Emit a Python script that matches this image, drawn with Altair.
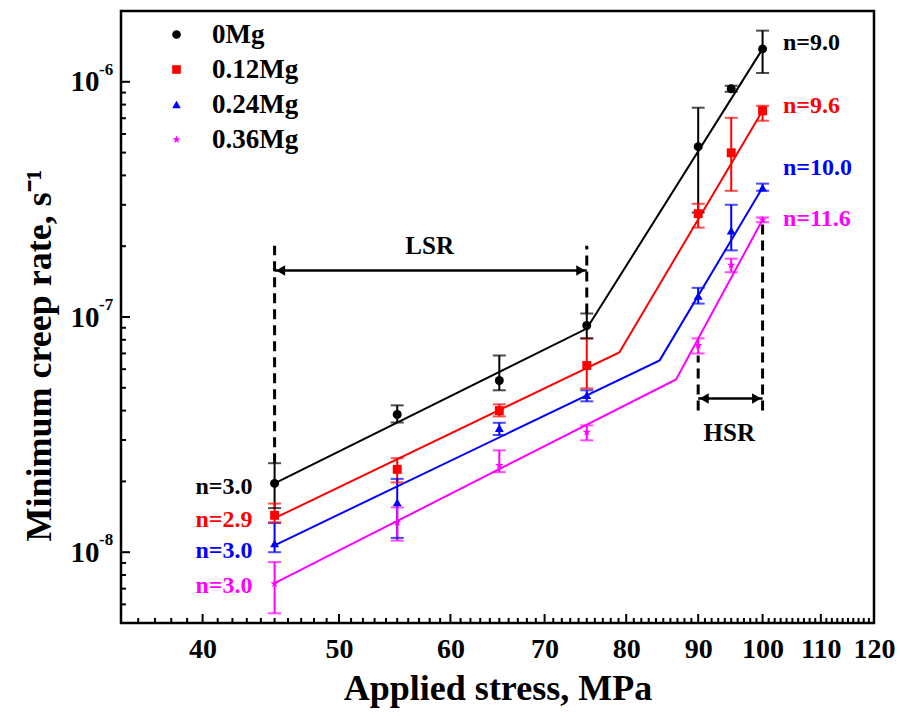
import altair as alt
import pandas as pd

FONT = "Liberation Serif"

series = ["0Mg", "0.12Mg", "0.24Mg", "0.36Mg"]
colors = ["#000000", "#ff0000", "#0000ff", "#ff00ff"]
star = "M0,-1L0.2245,-0.309L0.951,-0.309L0.363,0.118L0.588,0.809L0,0.382L-0.588,0.809L-0.363,0.118L-0.951,-0.309L-0.2245,-0.309Z"
shapes = ["circle", "square", "triangle-up", star]

stress = [45, 55, 65, 75, 90, 95, 100]

rate_0 = [1.96e-8, 3.85e-8, 5.37e-8, 9.2e-8, 5.3e-7, 9.34e-7, 1.38e-6]
hi_0 = [2.39e-8, 4.21e-8, 6.86e-8, 1.035e-7, 7.76e-7, 9.62e-7, 1.65e-6]
lo_0 = [1.54e-8, 3.56e-8, 4.88e-8, 8.11e-8, 2.78e-7, 9.07e-7, 1.09e-6]

rate_12 = [1.435e-8, 2.25e-8, 4.0e-8, 6.22e-8, 2.75e-7, 4.99e-7, 7.53e-7]
hi_12 = [1.61e-8, 2.51e-8, 4.25e-8, 8.11e-8, 3.03e-7, 7.03e-7, 7.91e-7]
lo_12 = [1.34e-8, 1.98e-8, 3.78e-8, 4.97e-8, 2.40e-7, 3.44e-7, 6.83e-7]

rate_24 = [1.09e-8, 1.63e-8, 3.37e-8, 4.65e-8, 1.23e-7, 2.33e-7, 3.55e-7]
hi_24 = [1.33e-8, 2.05e-8, 3.55e-8, 4.88e-8, 1.33e-7, 3.0e-7, 3.69e-7]
lo_24 = [1.0e-8, 1.15e-8, 3.15e-8, 4.38e-8, 1.14e-7, 1.92e-7, 3.44e-7]

rate_36 = [7.35e-9, 1.34e-8, 2.34e-8, 3.24e-8, 7.57e-8, 1.66e-7, 2.59e-7]
hi_36 = [9.08e-9, 1.55e-8, 2.71e-8, 3.46e-8, 8.11e-8, 1.77e-7, 2.65e-7]
lo_36 = [5.5e-9, 1.12e-8, 2.19e-8, 2.99e-8, 7.0e-8, 1.55e-7, 2.53e-7]

fit_x_0 = [45, 75, 100]
fit_y_0 = [1.96e-8, 8.93e-8, 1.38e-6]
fit_x_12 = [45, 79.1, 100]
fit_y_12 = [1.395e-8, 7.07e-8, 7.53e-7]
fit_x_24 = [45, 84.5, 100]
fit_y_24 = [1.07e-8, 6.54e-8, 3.55e-7]
fit_x_36 = [45, 86.8, 100]
fit_y_36 = [7.38e-9, 5.43e-8, 2.59e-7]

n_right = ["n=9.0", "n=9.6", "n=10.0", "n=11.6"]
n_right_y = [1.466e-6, 7.91e-7, 4.28e-7, 2.62e-7]
n_left = ["n=3.0", "n=2.9", "n=3.0", "n=3.0"]
n_left_y = [1.9e-8, 1.37e-8, 1.01e-8, 7.18e-9]

x_major = [40, 50, 60, 70, 80, 90, 100, 110, 120]
x_minor = [v for v in range(36, 120) if v not in x_major]
y_major = [1e-8, 1e-7, 1e-6]
y_exp = ["-8", "-7", "-6"]
y_minor = [k * 10.0 ** e for e in (-9, -8, -7) for k in range(2, 10) if 5e-9 <= k * 10.0 ** e < 2e-6]

# ---------- tables ----------
col_of = dict(zip(series, colors))
rates = [rate_0, rate_12, rate_24, rate_36]
his = [hi_0, hi_12, hi_24, hi_36]
los = [lo_0, lo_12, lo_24, lo_36]
rows = []
for s, r, h, l in zip(series, rates, his, los):
    for x, rv, hv, lv in zip(stress, r, h, l):
        rows.append({"series": s, "col": col_of[s], "x": x, "y": rv, "hi": hv, "lo": lv})
pts = pd.DataFrame(rows)

fits = []
for s, fx, fy in zip(series, [fit_x_0, fit_x_12, fit_x_24, fit_x_36], [fit_y_0, fit_y_12, fit_y_24, fit_y_36]):
    for i, (a, b) in enumerate(zip(fx, fy)):
        fits.append({"series": s, "col": col_of[s], "x": a, "y": b, "o": i})
fitdf = pd.DataFrame(fits)

W, H = 753, 612
xs = alt.Scale(type="log", domain=[35, 120], nice=False)
ys = alt.Scale(type="log", domain=[5e-9, 2e-6], nice=False)

x_axis = alt.Axis(values=x_major, format="d", ticks=False, domain=False, grid=False,
                  labelFont=FONT, labelFontSize=28, labelFontWeight="bold", labelPadding=12,
                  labelColor="black", labelFlush=False,
                  title="Applied stress, MPa", titleFont=FONT, titleFontSize=36,
                  titleFontWeight="bold", titleColor="black", titlePadding=8)
y_axis = alt.Axis(values=y_major, labelExpr="'10'", ticks=False, domain=False, grid=False,
                  labelFont=FONT, labelFontSize=29, labelFontWeight="bold", labelPadding=22,
                  labelColor="black", labelBaseline="middle",
                  title="Minimum creep rate, s\u207b\u00b9", titleFont=FONT, titleFontSize=36,
                  titleFontWeight="bold", titleColor="black", titleX=-82, titleY=344,
                  titleAngle=-90, titleBaseline="middle", titleAlign="center")


def X(f):
    return alt.X(f, type="quantitative", scale=xs, axis=x_axis)


def Y(f):
    return alt.Y(f, type="quantitative", scale=ys, axis=y_axis)


cscale = alt.Scale(domain=series, range=colors)
stroke_c = alt.Stroke("col:N", scale=None)
fill_c = alt.Fill("col:N", scale=None)

base = alt.Chart(pts)

err = base.mark_rule(strokeWidth=2).encode(x=X("x"), y=Y("lo"), y2="hi", stroke=stroke_c)
cap_hi = base.mark_tick(orient="horizontal", size=13, thickness=2).encode(x=X("x"), y=Y("hi"), fill=fill_c)
cap_lo = base.mark_tick(orient="horizontal", size=13, thickness=2).encode(x=X("x"), y=Y("lo"), fill=fill_c)

lines = alt.Chart(fitdf).mark_line(strokeWidth=2).encode(
    x=X("x"), y=Y("y"), stroke=stroke_c, order="o:Q", detail="series:N")

leg = alt.Legend(title=None, orient="none", legendX=42, legendY=10,
                 labelFont=FONT, labelFontSize=27, labelFontWeight="bold",
                 labelColor="black", symbolSize=75, rowPadding=7,
                 labelOffset=22, padding=0, symbolStrokeWidth=0)
points = base.mark_point(filled=True, size=80, opacity=1).encode(
    x=X("x"), y=Y("y"),
    color=alt.Color("series:N", scale=cscale, legend=leg),
    shape=alt.Shape("series:N", scale=alt.Scale(domain=series, range=shapes), legend=leg),
)

# ---------- annotations ----------
dash_x = [45, 75, 90, 100]
dash_top = [2.01e-7, 2.01e-7, 6.86e-8, 2.57e-7]
dash_bot = [2.39e-8, 1.035e-7, 4.0e-8, 4.0e-8]
dashdf = pd.DataFrame({"x": dash_x, "y": dash_bot, "y2": dash_top})
dashes = alt.Chart(dashdf).mark_rule(strokeDash=[10, 6], strokeWidth=3, color="black").encode(
    x=X("x"), y=Y("y"), y2="y2")

arrow_x1 = [45, 90]
arrow_x2 = [75, 100]
arrow_y = [1.576e-7, 4.5e-8]
arrdf = pd.DataFrame({"x": arrow_x1, "x2": arrow_x2, "y": arrow_y})
arr_line = alt.Chart(arrdf).mark_rule(strokeWidth=2.5, color="black").encode(x=X("x"), x2="x2", y=Y("y"))
head_l = alt.Chart(arrdf).mark_point(shape="triangle-left", filled=True, size=110, color="black",
                                     opacity=1, xOffset=6).encode(x=X("x"), y=Y("y"))
head_r = alt.Chart(arrdf).mark_point(shape="triangle-right", filled=True, size=110, color="black",
                                     opacity=1, xOffset=-6).encode(x=X("x2"), y=Y("y"))

region_text = ["LSR", "HSR"]
region_x = [58.0, 94.7]
region_y = [2.01e-7, 3.2e-8]
regdf = pd.DataFrame({"x": region_x, "y": region_y, "t": region_text})
reg_txt = alt.Chart(regdf).mark_text(font=FONT, fontSize=25, fontWeight="bold", color="black",
                                     baseline="middle").encode(x=X("x"), y=Y("y"), text="t:N")

nr = pd.DataFrame({"col": colors, "t": n_right, "y": n_right_y, "x": [103.4] * 4})
nl = pd.DataFrame({"col": colors, "t": n_left, "y": n_left_y, "x": [43.4] * 4})
nr_txt = alt.Chart(nr).mark_text(font=FONT, fontSize=24, fontWeight="bold", align="left",
                                 baseline="middle").encode(x=X("x"), y=Y("y"), text="t:N", fill=fill_c)
nl_txt = alt.Chart(nl).mark_text(font=FONT, fontSize=24, fontWeight="bold", align="right",
                                 baseline="middle").encode(x=X("x"), y=Y("y"), text="t:N", fill=fill_c)

# ---------- inward ticks ----------
xmaj = alt.Chart(pd.DataFrame({"x": x_major[:-1]})).mark_rule(strokeWidth=2, color="black").encode(
    x=X("x"), y=alt.value(H), y2=alt.value(H - 9))
xmin = alt.Chart(pd.DataFrame({"x": x_minor})).mark_rule(strokeWidth=2, color="black").encode(
    x=X("x"), y=alt.value(H), y2=alt.value(H - 5))
ymaj = alt.Chart(pd.DataFrame({"y": y_major})).mark_rule(strokeWidth=2, color="black").encode(
    y=Y("y"), x=alt.value(0), x2=alt.value(9))
ymin = alt.Chart(pd.DataFrame({"y": y_minor})).mark_rule(strokeWidth=2, color="black").encode(
    y=Y("y"), x=alt.value(0), x2=alt.value(5))
yexp = alt.Chart(pd.DataFrame({"y": y_major, "t": y_exp})).mark_text(
    font=FONT, fontSize=17, fontWeight="bold", align="left", baseline="middle", color="black",
    dx=0, dy=-12).encode(y=Y("y"), x=alt.value(-22), text="t:N")

chart = alt.layer(
    xmin, xmaj, ymin, ymaj, dashes, arr_line, head_l, head_r, lines, err, cap_hi, cap_lo, points,
    reg_txt, nr_txt, nl_txt, yexp
).properties(
    width=W, height=H,
    padding={"left": 121, "top": 11, "right": 26, "bottom": 93},
    autosize=alt.AutoSizeParams(type="none"),
    background="white",
).configure_view(stroke="black", strokeWidth=2.5)

chart.save("out.html", embed_options={"renderer": "svg", "actions": False})
